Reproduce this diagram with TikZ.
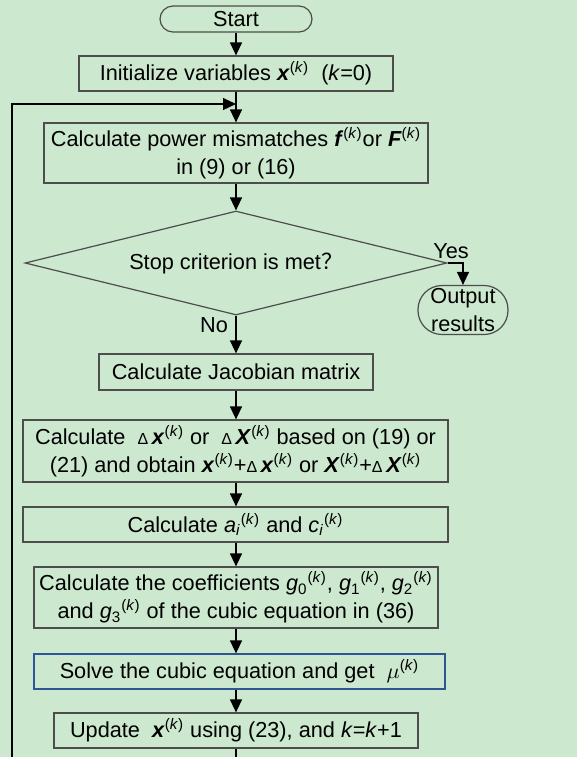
\documentclass[tikz,border=0pt]{standalone}
\usepackage{fontspec}
\setmainfont{Liberation Sans}
\newfontfamily\cjk{Noto Sans CJK SC}
\usepackage{tikz}
\usetikzlibrary{positioning, arrows.meta, shapes.geometric}
\definecolor{PaperGreen}{RGB}{204,232,207}
\definecolor{EdgeGray}{HTML}{4D4D4D}
\definecolor{EdgeBlue}{HTML}{2F5597}
\newcommand{\vx}{\textbf{\textit{x}}}
\newcommand{\vX}{\textbf{\textit{X}}}
\newcommand{\sk}{\textsuperscript{(\textit{k})}}
\newcommand{\dlt}{{\footnotesize Δ}\,}

\begin{document}
\begin{tikzpicture}[x=0.5pt, y=-0.5pt,
    font=\fontsize{10.85pt}{14pt}\selectfont,
    box/.style={draw=EdgeGray, line width=0.6pt, inner sep=0pt, align=center, minimum height=17.5pt},
    flow/.style={line width=0.6pt, -{Triangle[length=6.5pt, width=6pt]}}]
  \fill[PaperGreen] (0,0) rectangle (577,757);
  \useasboundingbox (0,0) rectangle (577,757);

  \node[box, rounded corners=6.5pt, minimum width=76pt, minimum height=13pt] (start) at (236,19) {Start};
  \node[box, minimum width=157pt] (init) at (236,73.5) {Initialize variables \vx\sk\ \ (\textit{k}=0)};
  \node[box, minimum width=192pt, minimum height=30pt] (power) at (236,153)
    {Calculate power mismatches \textbf{\textit{f}}\sk{}or \textbf{\textit{F}}\sk\\in (9) or (16)};
  \node[draw=EdgeGray, line width=0.6pt, diamond, aspect=4, inner sep=0pt,
        minimum width=211pt, minimum height=52pt] (stop) at (236,263) {Stop criterion is met{\cjk ？}};
  \node[box, rounded corners=12pt, minimum width=45pt, minimum height=24.5pt] (out) at (463,310) {Output\\results};
  \node[box, minimum width=137pt, minimum height=18pt] (jac) at (236,372) {Calculate Jacobian matrix};
  \node[box, minimum width=212.5pt, minimum height=31pt] (delta) at (235.5,451)
    {Calculate \ \dlt\vx\sk{} or \ \dlt\vX\sk{} based on (19) or\\(21) and obtain \vx\sk+\dlt\vx\sk{} or \vX\sk+\dlt\vX\sk};
  \node[box, minimum width=212.5pt] (coefac) at (235.5,524.5)
    {Calculate \textit{a}\textsubscript{\textit{i}}\sk{} and \textit{c}\textsubscript{\textit{i}}\sk};
  \node[box, minimum width=202pt, minimum height=30.5pt] (coefg) at (236,597.5)
    {Calculate the coefficients \textit{g}\textsubscript{0}\sk, \textit{g}\textsubscript{1}\sk, \textit{g}\textsubscript{2}\sk\\and \textit{g}\textsubscript{3}\sk{} of the cubic equation in (36)};
  \node[box, draw=EdgeBlue, minimum width=205.5pt] (solve) at (239.5,671.5)
    {Solve the cubic equation and get \ $\mu$\sk};
  \node[box, minimum width=182pt] (update) at (236,730.5)
    {Update \ \vx\sk{} using (23), and \textit{k}=\textit{k}+1};

  \node[inner sep=0pt] (yes) at (451,251) {Yes};
  \node[inner sep=0pt] (no) at (214,325) {No};

  \coordinate (merge) at (236,104);
  \coordinate (loopbot) at (236,757);
  \coordinate (loopleft) at (12,757);

  % main flow
  \draw[flow] (start) -- (init);
  \draw[flow] (init) -- (power);
  \draw[flow] (power) -- (stop);
  \draw[flow] (stop.east) -| (out.north);
  \draw[flow] (stop) -- (jac);
  \draw[flow] (jac) -- (delta.north -| jac.south);
  \draw[flow] (delta.south -| jac.south) -- (coefac.north -| jac.south);
  \draw[flow] (coefac.south -| jac.south) -- (coefg);
  \draw[flow] (coefg) -- (solve.north -| coefg.south);
  \draw[flow] (solve.south -| coefg.south) -- (update);

  % iteration loop
  \draw[line width=0.6pt] (update) -- (loopbot);
  \draw[flow] (loopleft) |- (merge);
\end{tikzpicture}
\end{document}
